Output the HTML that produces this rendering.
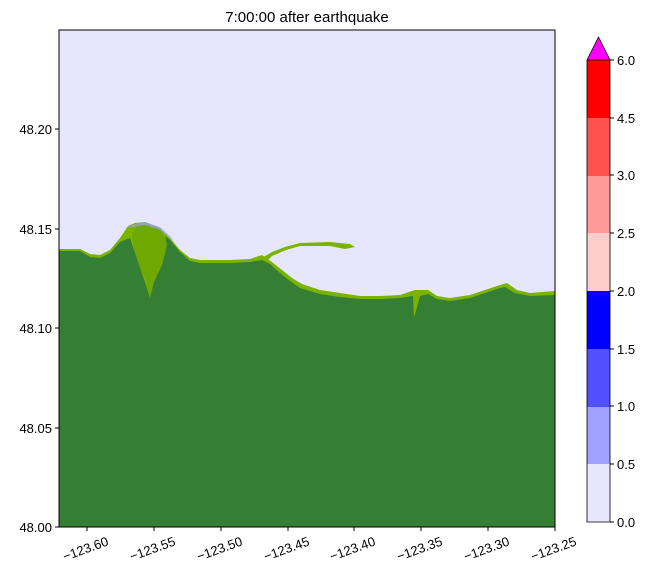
<!DOCTYPE html>
<html><head><style>
body{margin:0;background:#fff;width:651px;height:581px;overflow:hidden}
svg{display:block}
text{font-family:"Liberation Sans","DejaVu Sans",sans-serif;font-size:13px;fill:#000}
</style></head><body>
<svg width="651" height="581" viewBox="0 0 651 581">
<text x="307" y="22" text-anchor="middle" style="font-size:15px">7:00:00 after earthquake</text>
<rect x="59" y="30" width="496" height="497" fill="#e6e6fc"/>
<path d="M262,258 L272,252 L285,247 L300,243 L330,242 L350,244 L355,247 L345,249 L330,246 L300,246 L286,250 L272,256 L266,262 Z" fill="#7ab300"/>
<path d="M59,249 L80,249 L90,254 L100,255 L110,250 L120,238 L128,226 L135,223 L145,222 L160,228 L170,238 L180,250 L190,258 L200,260 L230,260 L250,259 L262,255 L272,262 L282,270 L292,278 L302,284 L320,290 L340,293 L360,296 L380,296 L400,295 L415,290 L428,290 L437,296 L450,298 L470,295 L485,290 L500,285 L507,283 L517,290 L530,293 L555,291 L555,527 L59,527 Z" fill="#7ab300"/>
<path d="M132,235 L138,224 L160,228 L168,245 L166,270 L158,285 L150,298 L146,280 L136,262 Z" fill="#6fa800"/>
<path d="M59,251 L80,251 L90,257 L100,258 L110,253 L120,242 L130,238 L138,262 L146,285 L150,298 L154,282 L162,265 L167,245 L165,236 L170,240 L180,252 L190,261 L200,263 L230,263 L250,262 L262,260 L270,264 L280,273 L290,281 L300,288 L320,294 L340,297 L360,299 L380,299 L400,298 L413,296 L414,318 L420,296 L428,294 L437,299 L450,301 L470,298 L485,293 L500,288 L505,287 L515,293 L530,296 L555,295 L555,527 L59,527 Z" fill="#357f34"/>
<path d="M125,228 L135,224 L145,222 L160,227 L170,236 L175,242 L168,236 L158,229 L145,225 L133,227 Z" fill="#9c9cff" opacity="0.7"/>
<rect x="59" y="30" width="496" height="497" fill="none" stroke="#000" stroke-width="1"/>
<g stroke="#000">
<line x1="87" y1="527" x2="87" y2="531"/><line x1="154" y1="527" x2="154" y2="531"/><line x1="221" y1="527" x2="221" y2="531"/><line x1="288" y1="527" x2="288" y2="531"/><line x1="354" y1="527" x2="354" y2="531"/><line x1="421" y1="527" x2="421" y2="531"/><line x1="488" y1="527" x2="488" y2="531"/><line x1="555" y1="527" x2="555" y2="531"/>
<line x1="55" y1="527" x2="59" y2="527"/><line x1="55" y1="428" x2="59" y2="428"/><line x1="55" y1="328" x2="59" y2="328"/><line x1="55" y1="229" x2="59" y2="229"/><line x1="55" y1="129" x2="59" y2="129"/>
</g>
<g text-anchor="end">
<text x="52" y="532">48.00</text><text x="52" y="433">48.05</text><text x="52" y="333">48.10</text><text x="52" y="234">48.15</text><text x="52" y="134">48.20</text>
</g>
<g text-anchor="middle">
<text transform="translate(87,553) rotate(-20)">−123.60</text>
<text transform="translate(154,553) rotate(-20)">−123.55</text>
<text transform="translate(221,553) rotate(-20)">−123.50</text>
<text transform="translate(288,553) rotate(-20)">−123.45</text>
<text transform="translate(354,553) rotate(-20)">−123.40</text>
<text transform="translate(421,553) rotate(-20)">−123.35</text>
<text transform="translate(488,553) rotate(-20)">−123.30</text>
<text transform="translate(555,553) rotate(-20)">−123.25</text>
</g>
<rect x="587" y="464" width="23" height="58" fill="#e6e6fc"/>
<rect x="587" y="406" width="23" height="58" fill="#a0a0ff"/>
<rect x="587" y="349" width="23" height="58" fill="#5050ff"/>
<rect x="587" y="291" width="23" height="58" fill="#0000ff"/>
<rect x="587" y="233" width="23" height="58" fill="#ffcccc"/>
<rect x="587" y="175" width="23" height="58" fill="#ff9999"/>
<rect x="587" y="118" width="23" height="58" fill="#ff5050"/>
<rect x="587" y="60" width="23" height="58" fill="#ff0000"/>
<path d="M587,60 L598.5,37 L610,60 Z" fill="#ff00ff" stroke="#000" stroke-width="0.8"/>
<path d="M587,60 L587,522 L610,522 L610,60" fill="none" stroke="#000" stroke-width="0.8"/>
<g stroke="#000"><line x1="610" y1="522" x2="614" y2="522"/><line x1="610" y1="464" x2="614" y2="464"/><line x1="610" y1="406" x2="614" y2="406"/><line x1="610" y1="349" x2="614" y2="349"/><line x1="610" y1="291" x2="614" y2="291"/><line x1="610" y1="233" x2="614" y2="233"/><line x1="610" y1="175" x2="614" y2="175"/><line x1="610" y1="118" x2="614" y2="118"/><line x1="610" y1="60" x2="614" y2="60"/></g>
<g><text x="617" y="527">0.0</text><text x="617" y="469">0.5</text><text x="617" y="411">1.0</text><text x="617" y="354">1.5</text><text x="617" y="296">2.0</text><text x="617" y="238">2.5</text><text x="617" y="180">3.0</text><text x="617" y="123">4.5</text><text x="617" y="65">6.0</text></g>
</svg>
</body></html>
